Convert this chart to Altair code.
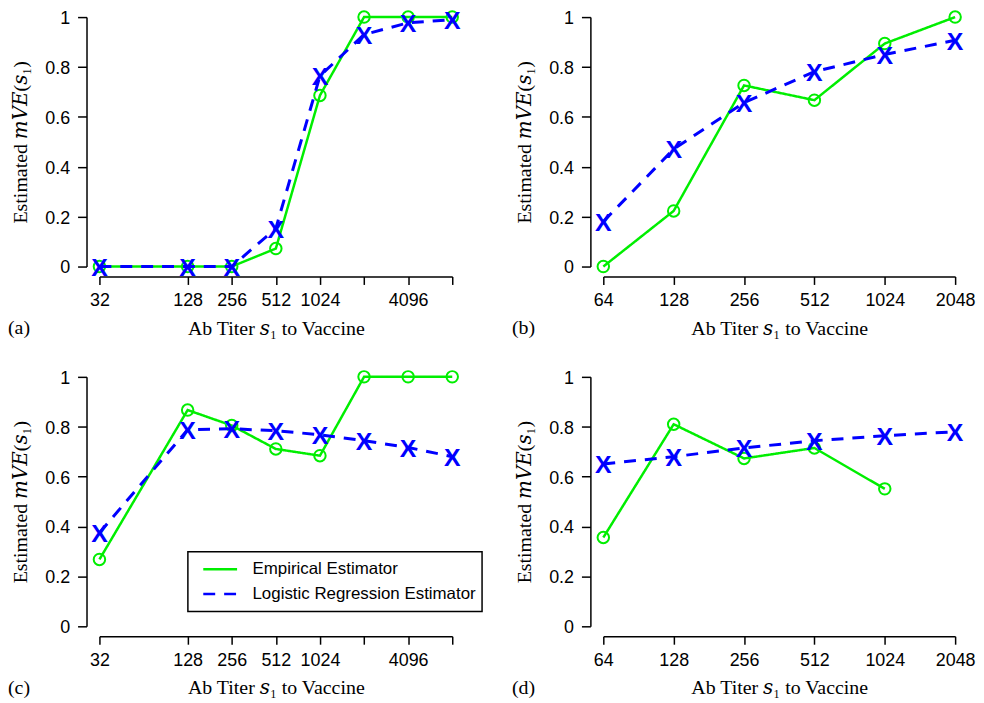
import altair as alt
import pandas as pd

EMP = "Empirical Estimator"
LOG = "Logistic Regression Estimator"
GREEN = "#00ee00"
BLUE = "#0000ff"

X_TITLE = "Ab Titer 𝑠₁ to Vaccine"
Y_TITLE = "Estimated 𝑚𝑉𝐸(𝑠₁)"
SERIF = "Liberation Serif, DejaVu Serif, serif"

# x positions / tick labels
titer_ac = [32, 128, 256, 512, 1024, 2048, 4096, 8192]
titer_bd = [64, 128, 256, 512, 1024, 2048]
tick_labels_ac = ["32", "128", "256", "512", "1024", "", "4096", ""]
tick_labels_bd = ["64", "128", "256", "512", "1024", "2048"]
y_ticks = [0, 0.2, 0.4, 0.6, 0.8, 1]

# panel (a)
a_emp = [0.0, 0.0, 0.0, 0.072, 0.686, 1.0, 1.0, 1.0]
a_log = [0.0, 0.0, 0.0, 0.153, 0.764, 0.93, 0.977, 0.99]
# panel (b)
b_emp = [0.0, 0.223, 0.726, 0.667, 0.894, 1.0]
b_log = [0.18, 0.471, 0.657, 0.781, 0.85, 0.907]
# panel (c)
c_emp = [0.268, 0.867, 0.805, 0.711, 0.684, 1.0, 1.0, 1.0]
c_log = [0.375, 0.788, 0.792, 0.784, 0.768, 0.744, 0.717, 0.68]
# panel (d)
d_emp_titer = [64, 128, 256, 512, 1024]
d_emp = [0.356, 0.81, 0.673, 0.715, 0.551]
d_log = [0.651, 0.68, 0.715, 0.744, 0.764, 0.78]


def label_expr(ticks, labels):
    expr = "''"
    for t, l in reversed(list(zip(ticks, labels))):
        expr = f"datum.value == {t} ? '{l}' : ({expr})"
    return expr


def panel(tag, t_emp, v_emp, t_log, v_log, ticks, labels, width, legend=None):
    emp_df = pd.DataFrame({"titer": t_emp, "mve": v_emp, "series": EMP})
    log_df = pd.DataFrame({"titer": t_log, "mve": v_log, "series": LOG})
    x = alt.X(
        "titer:Q",
        scale=alt.Scale(type="log", base=2, domain=[ticks[0], ticks[-1]], nice=False),
        axis=alt.Axis(values=ticks, labelExpr=label_expr(ticks, labels), title=X_TITLE,
                      offset=10, tickSize=8, labelPadding=7, titleY=58,
                      titleBaseline="alphabetic", grid=False, labelOverlap=False,
                      labelFlush=False),
    )
    y = alt.Y(
        "mve:Q",
        scale=alt.Scale(domain=[0, 1], nice=False, zero=False),
        axis=alt.Axis(values=y_ticks, format="~g", title=Y_TITLE, offset=13, tickSize=9,
                      labelPadding=8, labelOffset=1.5, titleX=-60, titleY=125.5,
                      titleAngle=270, titleBaseline="alphabetic", grid=False),
    )
    cscale = alt.Scale(domain=[EMP, LOG], range=[GREEN, BLUE])
    dscale = alt.Scale(domain=[EMP, LOG], range=[[1, 0], [12, 9]])
    color = alt.Color("series:N", scale=cscale, legend=legend)
    dash = alt.StrokeDash("series:N", scale=dscale, legend=legend)

    emp_line = alt.Chart(emp_df).mark_line(strokeWidth=2.5).encode(x=x, y=y, color=color, strokeDash=dash)
    emp_pts = alt.Chart(emp_df).mark_point(shape="circle", filled=False, size=133, strokeWidth=2,
                                           color=GREEN, opacity=1).encode(x=x, y=y)
    log_line = alt.Chart(log_df).mark_line(strokeWidth=3).encode(x=x, y=y, color=color, strokeDash=dash)
    log_pts = alt.Chart(log_df).mark_text(text="X", font="Liberation Sans", fontSize=25,
                                          fontWeight="bold", color=BLUE, dy=1.5).encode(x=x, y=y)
    tag_layer = alt.Chart(pd.DataFrame({"tag": [tag]})).mark_text(
        font=SERIF, fontSize=20, align="left", baseline="alphabetic", color="black"
    ).encode(text="tag:N", x=alt.value(-92), y=alt.value(319))
    return alt.layer(emp_line, emp_pts, log_line, log_pts, tag_layer).properties(width=width, height=251)


leg = alt.Legend(orient="none", legendX=89, legendY=176, title=None, strokeColor="black",
                 fillColor="white", padding=6, symbolType="M-0.62,0L1,0", symbolSize=1764,
                 symbolStrokeWidth=2.5, labelOffset=14, labelFont="Liberation Sans",
                 labelFontSize=17, labelColor="black", labelLimit=400, clipHeight=23,
                 rowPadding=2)

pa = panel("(a)", titer_ac, a_emp, titer_ac, a_log, titer_ac, tick_labels_ac, 355)
pb = panel("(b)", titer_bd, b_emp, titer_bd, b_log, titer_bd, tick_labels_bd, 354)
pc = panel("(c)", titer_ac, c_emp, titer_ac, c_log, titer_ac, tick_labels_ac, 355, legend=leg)
pdd = panel("(d)", d_emp_titer, d_emp, titer_bd, d_log, titer_bd, tick_labels_bd, 354)

chart = (
    alt.concat(pa, pb, pc, pdd, columns=2)
    .properties(spacing={"row": 111, "column": 152}, bounds="flush",
                padding={"left": 0, "top": -3, "right": 0, "bottom": 0})
    .resolve_scale(color="independent", strokeDash="independent")
    .configure_view(stroke=None)
    .configure_axis(domainColor="black", domainWidth=1.5, tickColor="black", tickWidth=1.5,
                    labelColor="black", labelFont="Liberation Sans", labelFontSize=18,
                    titleFont=SERIF, titleFontSize=20, titleFontWeight="normal",
                    titleColor="black")
    .configure_legend(strokeWidth=1.5)
)

chart.save("out.html", embed_options={"renderer": "svg", "actions": False})
